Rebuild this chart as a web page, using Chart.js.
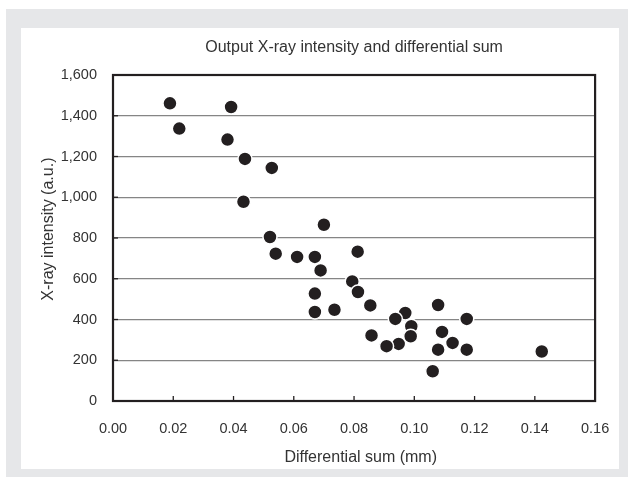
<!DOCTYPE html>
<html><head><meta charset="utf-8">
<script src="https://cdn.jsdelivr.net/npm/chart.js@4"></script>
<style>
html,body{margin:0;padding:0;background:#fff;width:628px;height:477px;overflow:hidden;position:relative}
#gray{position:absolute;left:6px;top:9px;right:0;bottom:0;background:#e6e7e9}
#panel{position:absolute;left:21px;top:28px;width:598px;height:441px;background:#fff}
canvas{position:absolute;left:0;top:0}
</style></head><body>
<div id="gray"></div><div id="panel"></div>
<canvas id="c" width="628" height="477"></canvas>
<script>
const titleText = 'Output X-ray intensity and differential sum';
const xAxisTitle = 'Differential sum (mm)';
const yAxisTitle = 'X-ray intensity (a.u.)';
const xTicks = [0, 0.02, 0.04, 0.06, 0.08, 0.10, 0.12, 0.14, 0.16];
const yTicks = [0, 200, 400, 600, 800, 1000, 1200, 1400, 1600];
// partially hidden points first so the others overlap them
const diffSum = [0.0689, 0.0794, 0.0948, 0.0970, 0.0990, 0.1127,
  0.0189, 0.0220, 0.0392, 0.0380, 0.0438, 0.0527, 0.0433, 0.0700, 0.0521, 0.0540,
  0.0611, 0.0670, 0.0812, 0.0670, 0.0670, 0.0735, 0.0813, 0.0854, 0.0858, 0.0908,
  0.0937, 0.0988, 0.1079, 0.1092, 0.1079, 0.1174, 0.1174, 0.1061, 0.1423];
const intensity = [641, 587, 280, 432, 367, 285,
  1461, 1337, 1443, 1283, 1188, 1144, 978, 865, 805, 723,
  707, 707, 733, 527, 437, 448, 535, 469, 322, 269,
  403, 318, 471, 339, 252, 403, 252, 146, 243];

const ink = '#231f20';
const textCol = '#333333';
const tickFont = {family: "'Liberation Sans', Arial, sans-serif", size: 14.5, weight: 'normal'};
const titleFont = {family: "'Liberation Sans', Arial, sans-serif", size: 16, weight: 'normal'};

const frame = {
  id: 'frame',
  beforeDatasetsDraw(chart) {
    const {ctx, chartArea: a, scales: {x, y}} = chart;
    ctx.save();
    ctx.strokeStyle = ink;
    ctx.lineWidth = 1.3;
    xTicks.forEach(v => { const px = x.getPixelForValue(v); ctx.beginPath(); ctx.moveTo(px, a.bottom); ctx.lineTo(px, a.bottom - 5); ctx.stroke(); });
    yTicks.forEach(v => { const py = y.getPixelForValue(v); ctx.beginPath(); ctx.moveTo(a.left, py); ctx.lineTo(a.left + 5, py); ctx.stroke(); });
    ctx.lineWidth = 2.2;
    ctx.strokeRect(a.left, a.top, a.right - a.left, a.bottom - a.top);
    ctx.restore();
  }
};

new Chart(document.getElementById('c'), {
  type: 'scatter',
  data: {
    datasets: [{
      data: diffSum.map((v, i) => ({x: v, y: intensity[i]})),
      backgroundColor: ink,
      borderColor: '#ffffff',
      borderWidth: 1.5,
      pointRadius: 7,
      pointHoverRadius: 7
    }]
  },
  options: {
    responsive: false,
    animation: false,
    devicePixelRatio: 1,
    layout: {padding: {left: 0, right: 32, top: 0, bottom: 0}},
    plugins: {
      legend: {display: false},
      tooltip: {enabled: false},
      title: {
        display: true, text: titleText, fullSize: false, color: textCol,
        font: titleFont, padding: {top: 37.9, bottom: 17.9}
      }
    },
    scales: {
      x: {
        type: 'linear', min: 0, max: 0.16,
        afterBuildTicks: s => { s.ticks = xTicks.map(v => ({value: v})); },
        afterFit: s => { s.height = 76; },
        grid: {display: false, drawTicks: false, tickLength: 0},
        border: {display: false},
        ticks: {color: textCol, font: tickFont, padding: 18.8, maxRotation: 0,
          callback: v => Number(v).toFixed(2)},
        title: {display: true, text: '   ' + xAxisTitle, color: textCol, font: titleFont,
          padding: {top: 0, bottom: 9.4}}
      },
      y: {
        min: 0, max: 1600,
        afterBuildTicks: s => { s.ticks = yTicks.map(v => ({value: v})); },
        afterFit: s => { s.width = 113; },
        grid: {color: '#858585', lineWidth: 1.2, drawTicks: false, tickLength: 0},
        border: {display: false},
        ticks: {color: textCol, font: tickFont, padding: 16,
          callback: v => String(v).replace(/\B(?=(\d{3})+(?!\d))/g, ',')},
        title: {display: true, text: '    ' + yAxisTitle, color: textCol, font: titleFont,
          padding: {top: 38.9, bottom: 0}}
      }
    }
  },
  plugins: [frame]
});
</script>
</body></html>
